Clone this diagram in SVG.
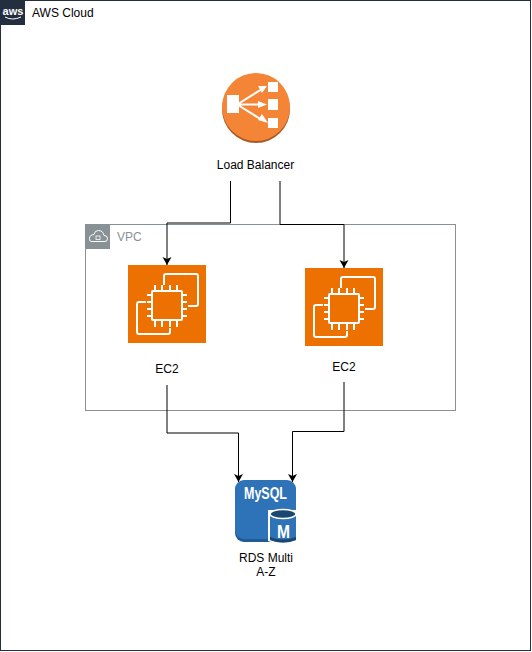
<svg xmlns="http://www.w3.org/2000/svg" width="532" height="652" viewBox="0 0 532 652">
<style>
text{font-family:"Liberation Sans",Arial,sans-serif;font-size:12px;fill:#000}
.c{text-anchor:middle}
.conn{fill:none;stroke:#000;stroke-width:1}
.chip{fill:none;stroke:#fff;stroke-width:2;stroke-linejoin:round}
</style>
<defs>
<marker id="arr" markerUnits="userSpaceOnUse" markerWidth="10" markerHeight="10" refX="8" refY="4.500" orient="auto"><path d="M0 0L8 4.500L0 9L2 4.500Z" fill="#000"/></marker>
<g id="ec2icon">
<rect width="78" height="78" fill="#ED7100"/>
<path class="chip" d="M36 20V11Q36 9 38 9H68Q70 9 70 11V39Q70 41 68 41H60M42 63V67Q42 69 40 69H11Q9 69 9 67V39Q9 37 11 37H18"/>
<rect class="chip" x="24" y="26" width="30" height="29" rx="1"/>
<path class="chip" d="M27 20V26M34 20V26M42 20V26M49 20V26M27 55V62M34 55V62M42 55V62M49 55V62M19 30H24M19 37H24M19 44H24M19 51H24M54 30H59M54 37H59M54 44H59M54 51H59"/>
</g>
</defs>
<rect width="532" height="652" fill="#fff"/>
<g id="aws-cloud">
<rect x="0.500" y="0.500" width="530" height="650" fill="none" stroke="#232F3E"/>
<rect x="0" y="0" width="25" height="25" fill="#232F3E"/>
<text x="13" y="15" class="c" style="font-size:11px;font-weight:bold;fill:#fff">aws</text>
<path d="M5 17Q12.500 21 21 17" fill="none" stroke="#fff" stroke-width="1"/>
<text x="32" y="17">AWS Cloud</text>
</g>
<g id="vpc">
<rect x="85.500" y="224.500" width="370" height="186" fill="none" stroke="#879196"/>
<rect x="85" y="225" width="25" height="24" fill="#879196"/>
<path d="M91 241.500H105Q107.500 241.500 107.500 238.500Q107.500 235.500 104 235.500Q103 230.500 98.500 230.500Q94.500 230.500 94 234.500Q89.500 235 89.500 238.500Q89.500 241.500 91 241.500Z" fill="none" stroke="#fff" stroke-width="1"/>
<rect x="96" y="236" width="4" height="3.500" fill="none" stroke="#fff" stroke-width="0.800"/>
<text x="117" y="241" style="font-size:12px;fill:#879196">VPC</text>
</g>
<g id="load-balancer">
<circle cx="256" cy="109" r="34" fill="#A85A26"/>
<circle cx="256" cy="107" r="34" fill="#F58536"/>
<rect x="227" y="95" width="12" height="18" fill="#fff"/>
<rect x="268" y="82" width="10" height="10" fill="#fff"/>
<rect x="268" y="99" width="10" height="11" fill="#fff"/>
<rect x="268" y="118" width="10" height="10" fill="#fff"/>
<path d="M238 104L262 89M238 104.500H262M238 105L262 120" stroke="#fff" stroke-width="2" fill="none"/>
<path d="M267 86L258 86L262 93ZM267 104.500L258 101V108ZM268 123L258 120L262 114Z" fill="#fff"/>
<text x="255.500" y="169" class="c">Load Balancer</text>
</g>
<g id="ec2-left">
<use href="#ec2icon" x="128" y="265"/>
<text x="167" y="373" class="c">EC2</text>
</g>
<g id="ec2-right">
<use href="#ec2icon" x="305" y="268"/>
<text x="344" y="371" class="c">EC2</text>
</g>
<g id="rds">
<rect x="235" y="482" width="61" height="60" rx="9" fill="#1F5B98"/>
<rect x="235" y="480" width="61" height="59" rx="9" fill="#2E73B8"/>
<text x="244" y="499" textLength="43" lengthAdjust="spacingAndGlyphs" style="font-size:17px;font-weight:bold;fill:#fff">MySQL</text>
<path d="M268 510V541Q282 547 296 541V510Z" fill="#fff"/>
<path d="M270 512V540Q283 545 296 540V512Z" fill="#2E73B8"/>
<path d="M270 537V540Q283 545 296 540V537Q283 542 270 537Z" fill="#1A476F"/>
<ellipse cx="283" cy="514" rx="13" ry="4.500" fill="#1A476F" stroke="#fff" stroke-width="1.500"/>
<text x="283.500" y="538" class="c" textLength="13" lengthAdjust="spacingAndGlyphs" style="font-size:19px;font-weight:bold;fill:#fff">M</text>
<text x="266" y="562" class="c">RDS Multi</text>
<text x="266" y="576" class="c">A-Z</text>
</g>
<g id="connectors">
<path class="conn" d="M230.500 181V223H167V265" marker-end="url(#arr)"/>
<path class="conn" d="M280 181V224.500H344V268" marker-end="url(#arr)"/>
<path class="conn" d="M167 385V433H238.500V482" marker-end="url(#arr)"/>
<path class="conn" d="M344 382V431.500H292.500V482" marker-end="url(#arr)"/>
</g>
</svg>
